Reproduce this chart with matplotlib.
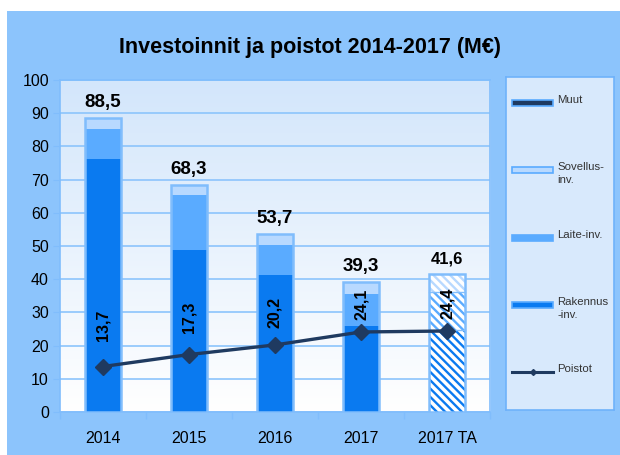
import numpy as np
import matplotlib
matplotlib.use("Agg")
import matplotlib.pyplot as plt
from matplotlib.patches import Rectangle
from matplotlib.lines import Line2D

# data (M€)
years = ["2014", "2015", "2016", "2017", "2017 TA"]
rakennus = [76.2, 48.8, 41.3, 25.9, 24.7]
laite = [9.0, 16.6, 9.0, 9.6, 11.4]
sovellus = [3.3, 2.9, 3.4, 3.8, 5.5]
muut = [0.0, 0.0, 0.0, 0.0, 0.0]
totals = [88.5, 68.3, 53.7, 39.3, 41.6]
poistot = [13.7, 17.3, 20.2, 24.1, 24.4]

c_rak = "#0a7af0"
c_lai = "#5aabff"
c_sov = "#b8d9ff"
c_muu = "#1f3a60"
c_edge = "#80bdfc"
c_line = "#1f3a60"
c_panel = "#8cc4fc"
c_grid = "#8cc4fc"

plt.rcParams["font.family"] = ["Liberation Sans", "DejaVu Sans"]
plt.rcParams["hatch.linewidth"] = 1.7

fig = plt.figure(figsize=(6.2, 4.55), dpi=100)
fig.patch.set_facecolor("white")
fig.patches.append(Rectangle((7 / 620, 0), 1, 1 - 11 / 455, transform=fig.transFigure,
                             facecolor=c_panel, edgecolor="none", zorder=-5))

fig.text(0.5, 1 - 47 / 455, "Investoinnit ja poistot 2014-2017 (M\u20ac)",
         ha="center", va="center", fontsize=15.5, fontweight="bold", color="black")

ax = fig.add_axes([60 / 620, 1 - 412 / 455, 430 / 620, 332 / 455])
x = np.arange(len(years))
ax.set_xlim(-0.5, len(years) - 0.5)
ax.set_ylim(0, 100)

# background gradient of the plot area
grad = np.linspace(0, 1, 256).reshape(-1, 1)
top = np.array(matplotlib.colors.to_rgb("#d3e6fb"))
bot = np.array([1.0, 1.0, 1.0])
img = top * (1 - grad[..., None]) + bot * grad[..., None]
img = img.reshape(256, 1, 3)
ax.imshow(img, extent=[-0.5, len(years) - 0.5, 0, 100], aspect="auto", zorder=0)

ax.set_yticks(range(0, 101, 10))
ax.grid(axis="y", color=c_grid, linewidth=1.2, zorder=1)
ax.set_axisbelow(True)

w = 0.41
bot1 = np.array(rakennus)
bot2 = bot1 + np.array(laite)
bot3 = bot2 + np.array(sovellus)
segs = [(rakennus, 0, c_rak), (laite, bot1, c_lai), (sovellus, bot2, c_sov), (muut, bot3, c_muu)]
for vals, b, col in segs:
    bottoms = np.zeros(len(years)) + b
    for i in range(len(years)):
        if vals[i] <= 0:
            continue
        if years[i].endswith("TA"):
            ax.bar(x[i], vals[i], w, bottom=bottoms[i], color="white", edgecolor=col,
                   hatch="\\\\\\\\", linewidth=0, zorder=3)
        else:
            ax.bar(x[i], vals[i], w, bottom=bottoms[i], color=col, linewidth=0, zorder=3)

# segment separators on the hatched bar and outlines on all bars
i_ta = len(years) - 1
for yv in [bot1[i_ta], bot2[i_ta]]:
    ax.plot([x[i_ta] - w / 2, x[i_ta] + w / 2], [yv, yv], color=c_edge, lw=1.0, zorder=4)
ax.bar(x, totals, w, fill=False, edgecolor=c_edge, linewidth=1.8, zorder=4)

for xi, t in zip(x, totals):
    fs = 12 if xi == i_ta else 13.5
    ax.annotate(f"{t:.1f}".replace(".", ","), (xi, t), xytext=(0, 5), textcoords="offset points",
                ha="center", va="bottom", fontsize=fs, fontweight="bold", zorder=6)

ax.plot(x, poistot, color=c_line, lw=2.4, marker="D", markersize=8, zorder=5)
for xi, p in zip(x, poistot):
    ax.text(xi, 0.6 * p + 18, f"{p:.1f}".replace(".", ","), rotation=90, ha="center",
            va="center", fontsize=11.5, fontweight="bold", zorder=6)

ax.set_xticks(x)
ax.set_xticklabels(years, fontsize=11.5)
ax.set_xticks(np.arange(-0.5, len(years)), minor=True)
ax.tick_params(axis="x", which="major", length=0, pad=14)
ax.tick_params(axis="x", which="minor", length=5, color=c_edge, width=1)
ax.tick_params(axis="y", labelsize=11.5, length=5, color=c_edge, pad=3)
for s in ax.spines.values():
    s.set_color(c_edge)
    s.set_linewidth(1.2)

# legend panel
lg = fig.add_axes([506 / 620, 1 - 410 / 455, 108 / 620, 333 / 455])
lg.set_xlim(0, 1)
lg.set_ylim(0, 1)
lg.set_xticks([])
lg.set_yticks([])
lg.set_facecolor("#d8e9fc")
for s in lg.spines.values():
    s.set_color("#6fb2fa")
    s.set_linewidth(1.2)

entries = [("Muut", c_muu, 0.922), ("Sovellus-\ninv.", c_sov, 0.721), ("Laite-inv.", c_lai, 0.517),
           ("Rakennus\n-inv.", c_rak, 0.315), ("Poistot", None, 0.114)]
hx0, hx1 = 0.056, 0.435
hh = 0.016
for label, col, yy in entries:
    if col is None:
        lg.add_line(Line2D([hx0, hx1], [yy, yy], color=c_line, lw=2.2))
        lg.plot([(hx0 + hx1) / 2], [yy], marker="D", markersize=3, color=c_line)
    else:
        lg.add_patch(Rectangle((hx0, yy - hh / 2), hx1 - hx0, hh, facecolor=col,
                               edgecolor=c_lai, linewidth=1.2))
    lg.text(0.475, yy + 0.024, label, ha="left", va="top", fontsize=8.2, color="#333333",
            linespacing=1.4)

fig.savefig("out.png", dpi=100)
